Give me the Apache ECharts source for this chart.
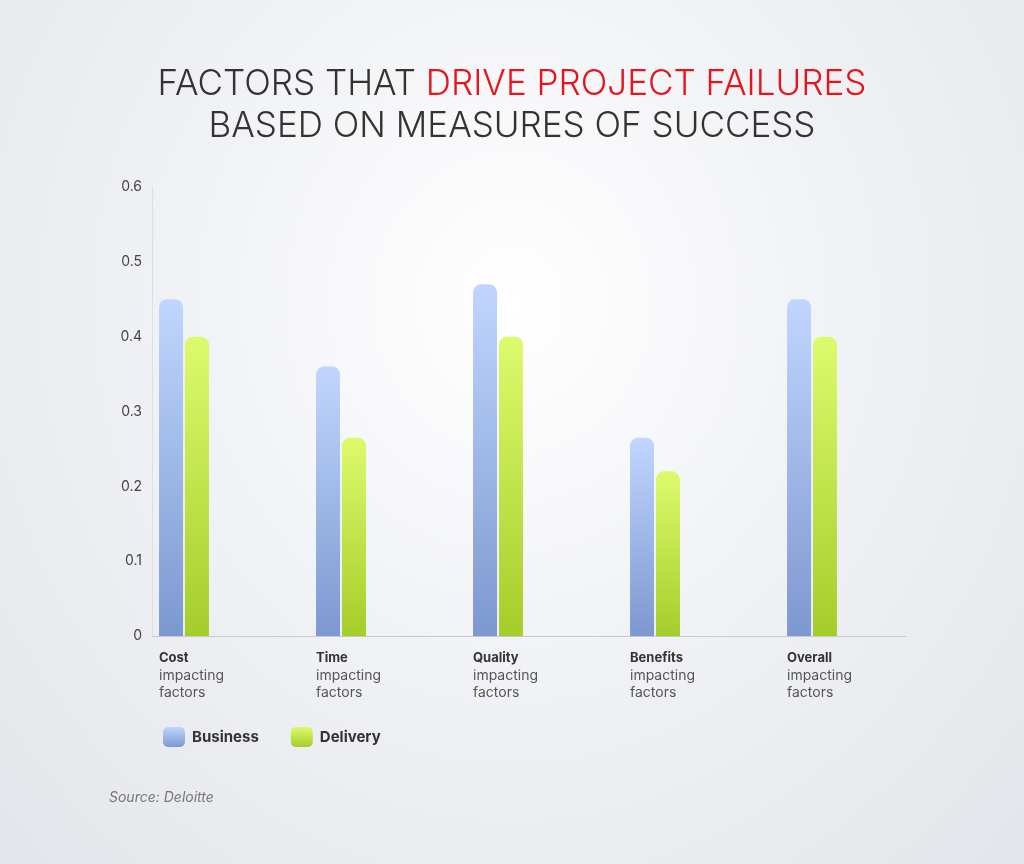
<!DOCTYPE html>
<html><head><meta charset="utf-8">
<script src="https://cdn.jsdelivr.net/npm/echarts@6/dist/echarts.min.js"></script>
<style>html,body{margin:0;padding:0;}#c{width:1024px;height:864px;background:radial-gradient(ellipse at 50% 35%,#ffffff 0%,#f1f2f5 45%,#e3e5ea 100%);}</style>
</head><body><div id="c"></div>
<script>
const categories = ['Cost', 'Time', 'Quality', 'Benefits', 'Overall'];
const business = [0.45, 0.36, 0.47, 0.265, 0.45];
const delivery = [0.40, 0.265, 0.40, 0.22, 0.40];
const yTicks = [0, 0.1, 0.2, 0.3, 0.4, 0.5, 0.6];

const chart = echarts.init(document.getElementById('c'));
const font = 'Inter, "Open Sans", sans-serif';
function grad(top, bottom){return new echarts.graphic.LinearGradient(0,0,0,1,[{offset:0,color:top},{offset:1,color:bottom}]);}
chart.setOption({
  title: [{
    text: '{a|FACTORS THAT }{r|DRIVE PROJECT FAILURES}\n{a|BASED ON MEASURES OF SUCCESS}',
    left: 'center', top: 58,
    textStyle: { rich: {
      a: {fontFamily: font, fontSize: 35, fontWeight: 300, color: '#333', lineHeight: 42},
      r: {fontFamily: font, fontSize: 35, fontWeight: 300, color: '#e8141b', lineHeight: 42}
    }}
  }, {
    text: 'Source: Deloitte', left: 104, top: 786,
    textStyle: {fontFamily: font, fontSize: 14, fontStyle: 'italic', fontWeight: 'normal', color: '#777'}
  }],
  legend: {
    data: ['Business', 'Delivery'], left: 158, top: 722, itemWidth: 22, itemHeight: 20, itemGap: 32,
    icon: 'roundRect',
    textStyle: {fontFamily: font, fontSize: 15, fontWeight: 'bold', color: '#333', padding: [0, 0, 0, 2]}
  },
  grid: [
    {left: 105.5, width: 785, top: 187, height: 449},
    {left: 152, width: 754, top: 187, height: 449},
    {left: 159, width: 628, top: 187, height: 449}
  ],
  xAxis: [
    {type: 'category', gridIndex: 0, data: categories, axisLine: {show: false}, axisTick: {show: false}, axisLabel: {show: false}},
    {type: 'value', gridIndex: 1, min: 0, max: 1, axisLine: {show: true, lineStyle: {color: '#c8c9cd'}}, axisTick: {show: false}, axisLabel: {show: false}, splitLine: {show: false}},
    {type: 'category', gridIndex: 2, data: categories, boundaryGap: false, axisLine: {show: false}, axisTick: {show: false},
      axisLabel: {align: 'left', margin: 14, formatter: v => '{b|' + v + '}\n{n|impacting}\n{n|factors}',
        rich: {b: {fontFamily: font, fontSize: 13, fontWeight: 'bold', color: '#333', lineHeight: 17},
               n: {fontFamily: font, fontSize: 14, color: '#555', lineHeight: 17}}}}
  ],
  yAxis: [
    {type: 'value', gridIndex: 0, min: 0, max: 0.6, axisLabel: {show: false}, splitLine: {show: false}, axisLine: {show: false}},
    {type: 'value', gridIndex: 1, min: 0, max: 0.6, interval: 0.1, axisLine: {show: true, lineStyle: {color: '#dedfe2'}}, axisTick: {show: false}, splitLine: {show: false},
      axisLabel: {margin: 10, fontFamily: font, fontSize: 14, color: '#444', formatter: v => yTicks.includes(+v.toFixed(1)) ? (v === 0 ? '0' : v.toFixed(1)) : ''}},
    {type: 'value', gridIndex: 2, min: 0, max: 0.6, show: false}
  ],
  series: [
    {name: 'Business', type: 'bar', xAxisIndex: 0, yAxisIndex: 0, data: business, barWidth: 24, barGap: '8%',
      itemStyle: {color: grad('#c0d6ff', '#7d98cf'), borderRadius: [8, 8, 0, 0]}},
    {name: 'Delivery', type: 'bar', xAxisIndex: 0, yAxisIndex: 0, data: delivery, barWidth: 24,
      itemStyle: {color: grad('#ddfa6c', '#a5cd2a'), borderRadius: [8, 8, 0, 0]}}
  ]
});
</script></body></html>
